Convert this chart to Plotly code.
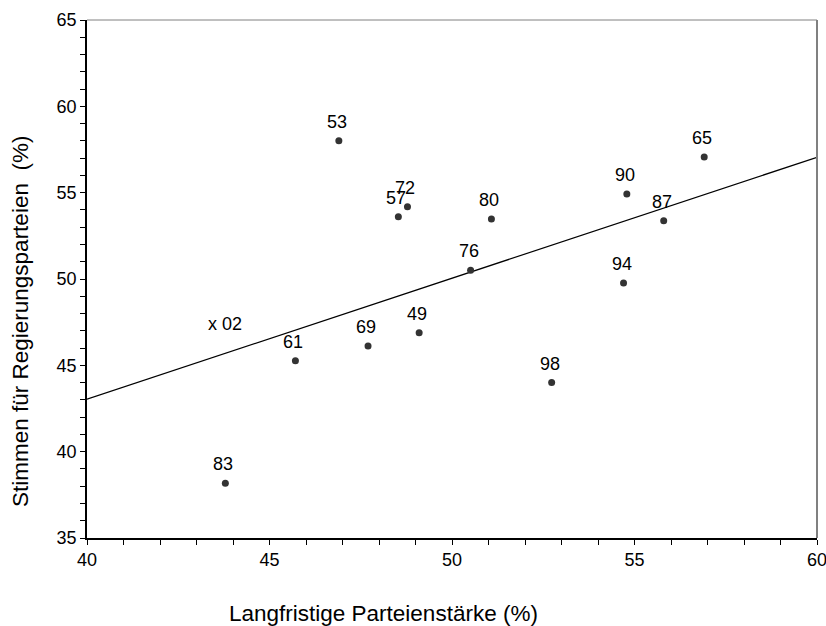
import plotly.graph_objects as go

# Data
years = ["49", "53", "57", "61", "65", "69", "72", "76", "80", "83", "87", "90", "94", "98"]
parteienstaerke = [49.10, 46.90, 48.53, 45.71, 56.91, 47.70, 48.78, 50.51, 51.08, 43.79, 55.80, 54.79, 54.70, 52.73]
stimmen = [46.88, 58.0, 53.6, 45.27, 57.07, 46.12, 54.19, 50.5, 53.48, 38.17, 53.38, 54.92, 49.77, 44.0]

# Regression line end points
line_x = [40, 60]
line_y = [43.04, 57.05]

# Extra text label
extra_x = [43.78]
extra_y = [47.28]
extra_text = ["x 02"]

font_family = "Arial, Liberation Sans, sans-serif"
label_size = 18

fig = go.Figure()
fig.add_trace(go.Scatter(
    x=line_x, y=line_y, mode="lines",
    line=dict(color="black", width=1.2), hoverinfo="skip", showlegend=False,
))
fig.add_trace(go.Scatter(
    x=parteienstaerke, y=stimmen, mode="markers",
    marker=dict(color="#333333", size=7, symbol="circle"),
    showlegend=False,
))
fig.add_trace(go.Scatter(
    x=extra_x, y=extra_y, mode="text", text=extra_text,
    textfont=dict(family=font_family, size=label_size, color="black"),
    showlegend=False,
))

annotations = []
for xv, yv, t in zip(parteienstaerke, stimmen, years):
    annotations.append(dict(
        x=xv, y=yv, xref="x", yref="y", text=t, showarrow=False,
        xanchor="center", yanchor="middle", yshift=19, xshift=-2,
        font=dict(family=font_family, size=label_size, color="black"),
    ))

axis_common = dict(
    showgrid=False, zeroline=False,
    showline=True, linecolor="black", linewidth=1.5,
    ticks="outside", ticklen=5, tickwidth=1, tickcolor="black",
    tickfont=dict(family=font_family, size=18, color="black"),
    ticklabeloverflow="allow", automargin=False,
    minor=dict(ticks="outside", ticklen=5, tickwidth=1, tickcolor="black", dtick=1),
)

fig.update_xaxes(range=[40, 60], dtick=5, tick0=40, **axis_common)
fig.update_yaxes(range=[35, 65], dtick=5, tick0=35, **axis_common)

annotations += [
    dict(text="Langfristige Parteienstärke (%)", xref="paper", yref="paper",
         x=(383 - 87) / 730, y=-(613 - 538) / 518, xanchor="center", yanchor="middle",
         showarrow=False, font=dict(family=font_family, size=22.5, color="black")),
    dict(text="Stimmen für Regierungsparteien  (%)", xref="paper", yref="paper",
         x=-(87 - 20) / 730, y=(538 - 322) / 518, xanchor="center", yanchor="middle",
         textangle=-90, showarrow=False,
         font=dict(family=font_family, size=22.5, color="black")),
]

fig.update_layout(
    width=826, height=626,
    margin=dict(l=87, r=9, t=20, b=88, autoexpand=False),
    paper_bgcolor="white", plot_bgcolor="white",
    font=dict(family=font_family, color="black"),
    shapes=[
        dict(type="line", xref="paper", yref="paper", x0=0, x1=1, y0=1, y1=1,
             line=dict(color="#808080", width=1)),
        dict(type="line", xref="paper", yref="paper", x0=1, x1=1, y0=0, y1=1,
             line=dict(color="#808080", width=2)),
    ],
    annotations=annotations,
)

fig.write_html("out.html")
